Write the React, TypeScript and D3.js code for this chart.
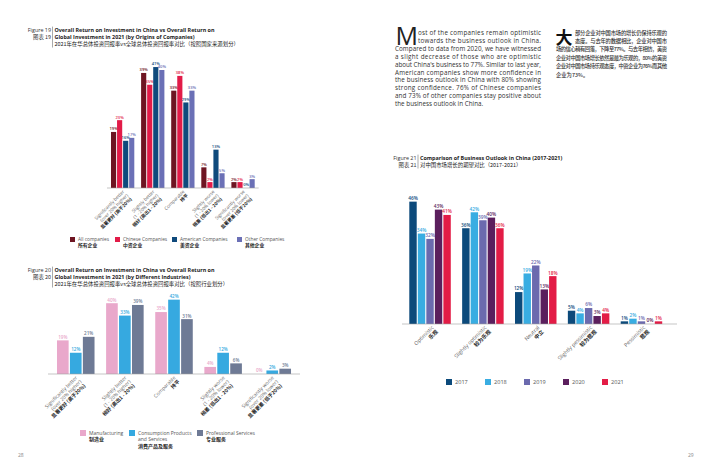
import React, { useEffect, useRef } from 'react';
import * as d3 from 'd3';

const LATIN = "'Open Sans', 'Noto Sans CJK SC', sans-serif";
const CJK = "'Noto Sans CJK SC', 'Open Sans', sans-serif";

// ---- Figure 19: by origin of companies ----
const returnLabels = [
  ['Significantly better', '(over 20% higher)', '显著更好 (高于20%)'],
  ['Slightly better', '(1 - 20% higher)', '稍好 (高出1 - 20%)'],
  ['Comparable', '持平'],
  ['Slightly worse', '(1 - 20% lower)', '稍差 (低出1 - 20%)'],
  ['Significantly worse', '(over 20% lower)', '显著更差 (低于20%)'],
];
const allCompanies = [19, 39, 33, 7, 2];
const chineseCompanies = [23, 35, 38, 2, 2];
const americanCompanies = [16, 41, 29, 13, 0];
const otherCompanies = [17, 40, 33, 5, 3];
const originNames = [['All companies'], ['Chinese Companies'], ['American Companies'], ['Other Companies']];
const originNamesZh = ['所有企业', '中资企业', '美资企业', '其他企业'];

// ---- Figure 20: by industry ----
const manufacturing = [19, 40, 35, 4, 0];
const consumption = [12, 33, 42, 12, 2];
const professional = [21, 39, 31, 6, 3];
const industryNames = [['Manufacturing'], ['Consumption Products', 'and Services'], ['Professional Services']];
const industryNamesZh = ['制造业', '消费产品及服务', '专业服务'];

// ---- Figure 21: business outlook 2017-2021 ----
const outlookLabels = [
  ['Optimistic', '乐观'],
  ['Slightly optimistic', '较为乐观'],
  ['Neutral', '中立'],
  ['Slightly pessimistic', '较为悲观'],
  ['Pessimistic', '悲观'],
];
const years = ['2017', '2018', '2019', '2020', '2021'];
const outlook2017 = [46, 36, 12, 5, 1];
const outlook2018 = [34, 42, 19, 4, 2];
const outlook2019 = [32, 39, 22, 6, 1];
const outlook2020 = [43, 40, 13, 3, 0];
const outlook2021 = [41, 36, 18, 4, 1];

// ---- text ----
const fig19Title = ['Overall Return on Investment in China vs Overall Return on', 'Global Investment in 2021 (by Origins of Companies)'];
const fig19TitleZh = '2021年在华总体投资回报率vs全球总体投资回报率对比（按照国家来源划分）';
const fig20Title = ['Overall Return on Investment in China vs Overall Return on', 'Global Investment in 2021 (by Different Industries)'];
const fig20TitleZh = '2021年在华总体投资回报率vs全球总体投资回报率对比（按照行业划分）';
const fig21Title = ['Comparison of Business Outlook in China (2017-2021)'];
const fig21TitleZh = '对中国市场增长的期望对比（2017-2021）';

const bodyEn = [
  'ost of the companies remain optimistic',
  'towards the business outlook in China.',
  'Compared to data from 2020, we have witnessed',
  'a slight decrease of those who are optimistic',
  "about China's business to 77%. Similar to last year,",
  'American companies show more confidence in',
  'the business outlook in China with 80% showing',
  'strong confidence. 76% of Chinese companies',
  'and 73% of other companies stay positive about',
  'the business outlook in China.',
];
const bodyZh = [
  '部分企业对中国市场的增长仍保持乐观的',
  '态度。与去年的数据相比，企业对中国市',
  '场的信心稍有回落，下降至77%。与去年相仿，美资',
  '企业对中国市场增长依然是最为乐观的，80%的美资',
  '企业对中国市场持乐观态度，中资企业为76%而其他',
  '企业为73%。',
];

const isCjk = (s: string) => /[\u4e00-\u9fff]/.test(s);

interface BarSpec {
  labels: string[][];
  series: number[][];
  colors: string[];
  range: [number, number];
  axis: [number, number];
  padInner: number;
  padOuter: number;
  barPad: number;
  baseline: number;
  pxPerPct: number;
  valueSize: number;
  catSize: number;
  catDx: number;
}

function drawBars(svg: d3.Selection<SVGSVGElement, unknown, null, undefined>, s: BarSpec) {
  const g = svg.append('g');
  const keys = s.labels.map((_, i) => String(i));
  const x = d3.scaleBand().domain(keys).range(s.range).paddingInner(s.padInner).paddingOuter(s.padOuter);
  const xs = d3.scaleBand().domain(s.series.map((_, j) => String(j))).range([0, x.bandwidth()]).paddingInner(s.barPad);
  const y = d3.scaleLinear().domain([0, 50]).range([s.baseline, s.baseline - 50 * s.pxPerPct]);

  s.series.forEach((vals, j) => {
    const sg = g.append('g');
    sg.selectAll('rect')
      .data(vals)
      .enter()
      .append('rect')
      .attr('x', (_, i) => (x(String(i)) || 0) + (xs(String(j)) || 0))
      .attr('y', d => y(d))
      .attr('width', xs.bandwidth())
      .attr('height', d => s.baseline - y(d))
      .attr('fill', s.colors[j]);
    sg.selectAll('text')
      .data(vals)
      .enter()
      .append('text')
      .attr('x', (_, i) => (x(String(i)) || 0) + (xs(String(j)) || 0) + xs.bandwidth() / 2)
      .attr('y', d => y(d) - 1.6)
      .attr('text-anchor', 'middle')
      .attr('font-family', LATIN)
      .attr('font-size', s.valueSize)
      .attr('font-weight', 600)
      .attr('fill', s.colors[j])
      .text(d => `${d}%`);
  });

  g.append('line')
    .attr('x1', s.axis[0]).attr('x2', s.axis[1])
    .attr('y1', s.baseline).attr('y2', s.baseline)
    .attr('stroke', '#a0a0a0').attr('stroke-width', 0.6);

  // rotated category labels
  s.labels.forEach((lines, i) => {
    const cx = (x(String(i)) || 0) + x.bandwidth() / 2;
    const t = g.append('text')
      .attr('transform', `translate(${cx + s.catDx},${s.baseline + 4}) rotate(-45)`)
      .attr('text-anchor', 'end')
      .attr('font-size', s.catSize);
    lines.forEach((ln, k) => {
      t.append('tspan')
        .attr('x', 0)
        .attr('y', k * s.catSize * 1.15)
        .attr('font-family', isCjk(ln) ? CJK : LATIN)
        .attr('font-weight', isCjk(ln) ? 700 : 400)
        .attr('fill', isCjk(ln) ? '#222' : '#666')
        .text(ln);
    });
  });
}

function drawTitle(svg: d3.Selection<SVGSVGElement, unknown, null, undefined>, sep: number, base: number, num: number, en: string[], zh: string, size: number) {
  const g = svg.append('g').attr('font-size', size);
  const lh = size * 1.3;
  const n = en.length + 1;
  g.append('line')
    .attr('x1', sep).attr('x2', sep)
    .attr('y1', base - size).attr('y2', base + (n - 1) * lh + 1.5)
    .attr('stroke', '#555').attr('stroke-width', 0.5);
  g.append('text').attr('x', sep - 1.5).attr('y', base).attr('text-anchor', 'end')
    .attr('font-family', LATIN).attr('fill', '#333').text(`Figure ${num}`);
  g.append('text').attr('x', sep - 1.5).attr('y', base + lh).attr('text-anchor', 'end')
    .attr('font-family', CJK).attr('fill', '#333').text(`图表 ${num}`);
  en.forEach((ln, k) => {
    g.append('text').attr('x', sep + 2).attr('y', base + k * lh)
      .attr('font-family', LATIN).attr('font-weight', 700).attr('fill', '#222').text(ln);
  });
  g.append('text').attr('x', sep + 2).attr('y', base + en.length * lh)
    .attr('font-family', CJK).attr('fill', '#222').text(zh);
}

function drawLegend(svg: d3.Selection<SVGSVGElement, unknown, null, undefined>, xs: number[], y: number, names: string[][], zh: string[], colors: string[], size: number, box: number) {
  const g = svg.append('g').attr('font-size', size);
  names.forEach((lines, i) => {
    g.append('rect').attr('x', xs[i]).attr('y', y - box + 1).attr('width', box).attr('height', box).attr('fill', colors[i]);
    lines.forEach((ln, k) => {
      g.append('text').attr('x', xs[i] + box + 3).attr('y', y + k * size * 1.25)
        .attr('font-family', LATIN).attr('fill', '#555').text(ln);
    });
    if (zh[i]) {
      g.append('text').attr('x', xs[i] + box + 3).attr('y', y + lines.length * size * 1.25)
        .attr('font-family', CJK).attr('font-weight', 700).attr('fill', '#222').text(zh[i]);
    }
  });
}

export default function App() {
  const svgRef = useRef<SVGSVGElement>(null);

  useEffect(() => {
    if (!svgRef.current) return;
    const svg = d3.select(svgRef.current);
    svg.selectAll('*').remove();

    svg.append('rect').attr('width', 710).attr('height', 473).attr('fill', '#fff');

    // Figure 19
    drawTitle(svg, 52.5, 32, 19, fig19Title, fig19TitleZh, 5.4);
    const originColors = ['#6e1522', '#e21b48', '#0f4a7c', '#6b70b6'];
    drawBars(svg, {
      labels: returnLabels,
      series: [allCompanies, chineseCompanies, americanCompanies, otherCompanies],
      colors: originColors,
      range: [107, 258.7], axis: [107, 258.7],
      padInner: 0.226, padOuter: 0.133, barPad: 0.15,
      baseline: 188, pxPerPct: 2.95,
      valueSize: 4.1, catSize: 4.6, catDx: 2,
    });
    drawLegend(svg, [70, 115, 172, 237], 241, originNames, originNamesZh, originColors, 4.8, 5);

    // Figure 20
    drawTitle(svg, 52.5, 272, 20, fig20Title, fig20TitleZh, 5.4);
    const industryColors = ['#e9a8cb', '#36a9e0', '#6e7a95'];
    drawBars(svg, {
      labels: returnLabels,
      series: [manufacturing, consumption, professional],
      colors: industryColors,
      range: [48, 300], axis: [48, 300],
      padInner: 0.236, padOuter: 0.183, barPad: 0.1,
      baseline: 374, pxPerPct: 1.77,
      valueSize: 4.6, catSize: 5, catDx: 2,
    });
    drawLegend(svg, [80, 129, 197], 435, industryNames, industryNamesZh, industryColors, 5, 6);

    // Right page body text
    const body = svg.append('g').attr('fill', '#333');
    body.append('text').attr('x', 395.5).attr('y', 45.2).attr('font-family', LATIN)
      .attr('font-size', 25).attr('fill', '#222').text('M');
    bodyEn.forEach((ln, k) => {
      const x0 = k < 2 ? 418 : 395;
      const t = body.append('text').attr('x', x0).attr('y', 35 + k * 7.9)
        .attr('font-family', LATIN).attr('font-size', 6.3).text(ln);
      if (k < bodyEn.length - 1) t.attr('textLength', 541 - x0).attr('lengthAdjust', 'spacing');
    });
    body.append('text').attr('x', 555.5).attr('y', 43.5).attr('font-family', CJK)
      .attr('font-size', 17).attr('font-weight', 700).attr('fill', '#111').text('大');
    bodyZh.forEach((ln, k) => {
      const x0 = k < 2 ? 575 : 556;
      const t = body.append('text').attr('x', x0).attr('y', 34.5 + k * 8.4)
        .attr('font-family', CJK).attr('font-size', 5.3).attr('font-weight', 500).text(ln);
      if (k < bodyZh.length - 1) t.attr('textLength', 667 - x0).attr('lengthAdjust', 'spacing');
    });

    // Figure 21
    drawTitle(svg, 418, 160, 21, fig21Title, fig21TitleZh, 5.4);
    const yearColors = ['#0c4a7b', '#39ade2', '#6b6aae', '#5b1f5d', '#e31c46'];
    drawBars(svg, {
      labels: outlookLabels,
      series: [outlook2017, outlook2018, outlook2019, outlook2020, outlook2021],
      colors: yearColors,
      range: [402, 669.5], axis: [402, 677],
      padInner: 0.215, padOuter: 0.138, barPad: 0.13,
      baseline: 324, pxPerPct: 2.66,
      valueSize: 4.8, catSize: 5.3, catDx: 4,
    });
    drawLegend(svg, [446, 485, 524, 563, 602], 384, years.map(yv => [yv]), [], yearColors, 5.6, 6);

    // page numbers
    svg.append('text').attr('x', 18).attr('y', 457).attr('font-family', LATIN)
      .attr('font-size', 5).attr('fill', '#888').text('28');
    svg.append('text').attr('x', 688).attr('y', 457).attr('font-family', LATIN)
      .attr('font-size', 5).attr('fill', '#888').text('29');
  }, []);

  return (
    <div style={{ position: 'absolute', left: 0, top: 0 }}>
      <svg ref={svgRef} width={710} height={473} style={{ display: 'block' }} />
    </div>
  );
}
